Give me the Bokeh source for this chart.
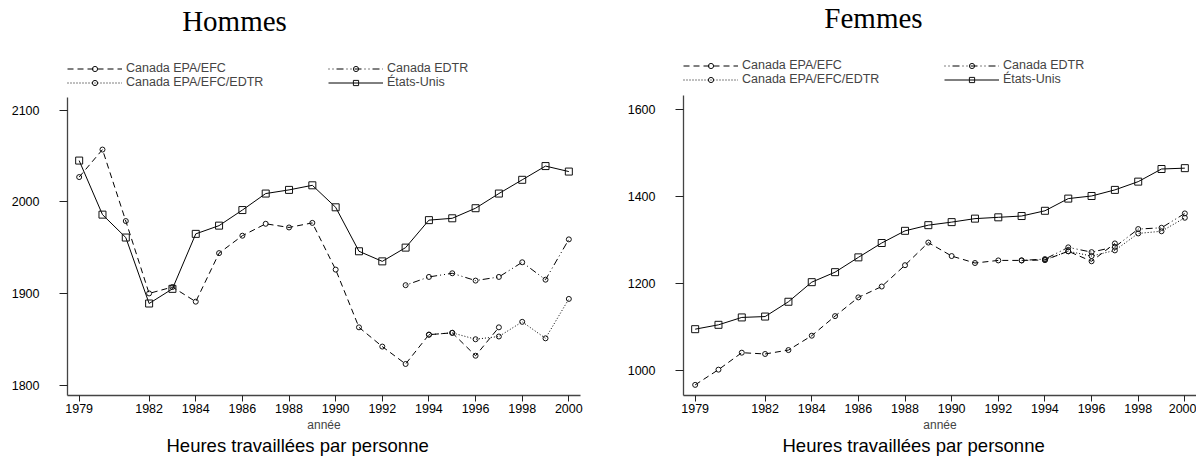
from bokeh.plotting import figure
from bokeh.models import Range1d, FixedTicker, Legend, LegendItem, Label, Title
from bokeh.layouts import row
from bokeh.embed import file_html
from bokeh.resources import INLINE

# ---------------- data ----------------
years_us = list(range(1979, 2001))
years_epa = list(range(1979, 1998))
years_edtr = list(range(1993, 2001))
years_mix = list(range(1994, 2001))

h_us = [2045, 1986, 1961, 1889, 1905, 1965, 1974, 1991, 2009, 2013, 2018,
        1994, 1946, 1935, 1950, 1980, 1982, 1993, 2009, 2024, 2039, 2033]
h_epa = [2027, 2057, 1979, 1900, 1907, 1891, 1944, 1963, 1976, 1972, 1977,
         1926, 1863, 1842, 1823, 1855, 1857, 1832, 1863]
h_edtr = [1909, 1918, 1922, 1914, 1918, 1934, 1915, 1959]
h_mix = [1855, 1857, 1850, 1853, 1869, 1851, 1894]

f_us = [1095, 1105, 1122, 1124, 1158, 1203, 1226, 1260, 1293, 1321, 1334,
        1341, 1349, 1352, 1355, 1367, 1395, 1401, 1415, 1434, 1463, 1465]
f_epa = [967, 1002, 1041, 1038, 1047, 1080, 1125, 1168, 1193, 1242, 1294,
         1263, 1247, 1253, 1253, 1254, 1274, 1251, 1292]
f_edtr = [1253, 1256, 1283, 1272, 1284, 1325, 1328, 1361]
f_mix = [1254, 1274, 1263, 1276, 1315, 1320, 1351]

x_ticks = [1979, 1982, 1984, 1986, 1988, 1990, 1992, 1994, 1996, 1998, 2000]
h_yticks = [1800, 1900, 2000, 2100]
f_yticks = [1000, 1200, 1400, 1600]

labels = ["Canada EPA/EFC", "Canada EPA/EFC/EDTR", "Canada EDTR", "États-Unis"]
titles = ["Hommes", "Femmes"]
x_label = "année"
caption = "Heures travaillées par personne"

SANS = "Liberation Sans"
SERIF = "Liberation Serif"


def panel(title, title_x, us, epa, edtr, mix, yticks, yr, ybounds, width, bl, br, bb):
    p = figure(width=width, height=457, x_range=Range1d(1978.5, 2000.5),
               y_range=Range1d(*yr), output_backend="svg", toolbar_location=None,
               min_border_left=bl, min_border_right=br, min_border_top=0,
               min_border_bottom=bb)
    p.outline_line_color = None
    p.grid.visible = False
    p.background_fill_color = "white"
    p.border_fill_color = "white"

    ax = p.xaxis[0]
    ax.ticker = FixedTicker(ticks=x_ticks)
    ay = p.yaxis[0]
    ay.ticker = FixedTicker(ticks=yticks)
    ay.bounds = ybounds
    for a in (ax, ay):
        a.axis_line_color = "#444444"
        a.axis_line_width = 1.3
        a.major_tick_line_color = "#222222"
        a.minor_tick_line_color = None
        a.major_tick_in = 0
        a.major_label_text_font = SANS
        a.major_label_text_font_size = "12.5px"
        a.major_label_text_color = "black"
    ax.major_tick_out = 6
    ax.major_label_standoff = 2
    ay.major_tick_out = 8
    ay.major_label_standoff = 20
    ax.axis_label = x_label
    ax.axis_label_text_font = SANS
    ax.axis_label_text_font_size = "12px"
    ax.axis_label_text_font_style = "normal"
    ax.axis_label_standoff = 2

    lk = dict(line_color="black", line_width=1)
    mk = dict(fill_color=None, line_color="#111111", line_width=1)

    l_epa = p.line(years_epa, epa, line_dash="6 4", **lk)
    s_epa = p.scatter(years_epa, epa, marker="circle", size=5, **mk)
    l_mix = p.line(years_mix, mix, line_dash="1 2", **lk)
    s_mix = p.scatter(years_mix, mix, marker="circle", size=5, **mk)
    l_edtr = p.line(years_edtr, edtr, line_dash="1 3 1 3 7 3", **lk)
    s_edtr = p.scatter(years_edtr, edtr, marker="circle", size=5, **mk)
    l_us = p.line(years_us, us, **lk)
    s_us = p.scatter(years_us, us, marker="square", size=7, **mk)

    fb = 457 - bb  # frame bottom in canvas px
    common = dict(border_line_color=None, background_fill_alpha=0, padding=0,
                  margin=0, spacing=0, glyph_width=55, glyph_height=13,
                  label_height=13, label_standoff=4,
                  label_text_font=SANS, label_text_font_size="12.5px",
                  label_text_baseline="middle")
    leg1 = Legend(items=[LegendItem(label=labels[0], renderers=[l_epa, s_epa]),
                         LegendItem(label=labels[1], renderers=[l_mix, s_mix])],
                  location=(0, fb - 93), **common)
    leg2 = Legend(items=[LegendItem(label=labels[2], renderers=[l_edtr, s_edtr]),
                         LegendItem(label=labels[3], renderers=[l_us, s_us])],
                  location=(261, fb - 93), **common)
    p.add_layout(leg1)
    p.add_layout(leg2)

    p.add_layout(Label(x=title_x, y=fb - 24, x_units="screen", y_units="screen",
                       text=title, text_font=SERIF, text_font_size="29px",
                       text_align="center", text_baseline="alphabetic",
                       text_color="black"))
    p.add_layout(Title(text=caption, align="left", offset=99, standoff=0,
                       text_font=SANS, text_font_size="18.5px",
                       text_font_style="normal", text_color="black",
                       text_line_height=0.8, vertical_align="top"), "below")
    return p


p1 = panel(titles[0], 167, h_us, h_epa, h_edtr, h_mix, h_yticks, (1788.6, 2219.7),
           (1788.6, 2113.9), 617, 67, 37, 58)
p2 = panel(titles[1], 190, f_us, f_epa, f_edtr, f_mix, f_yticks, (942.6, 1850.2),
           (942.6, 1631), 579, 66, 0, 55)

layout = row(p1, p2)
open("out.html", "w").write(file_html(layout, INLINE))
